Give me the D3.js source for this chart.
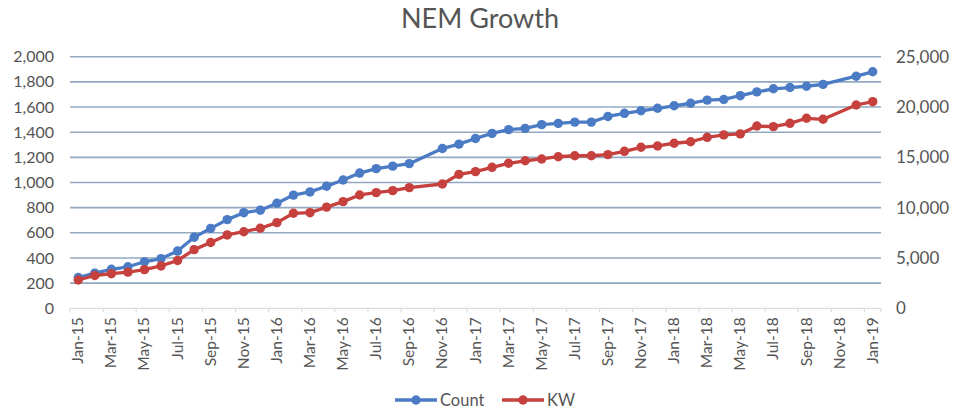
<!DOCTYPE html>
<html>
<head>
<meta charset="utf-8">
<script src="https://cdn.jsdelivr.net/npm/d3@7"></script>
<style>
  html, body { margin: 0; padding: 0; background: #fff; }
  svg { display: block; font-family: Lato, "Open Sans", sans-serif; }
</style>
</head>
<body>
<svg id="chart" width="955" height="412"></svg>
<script>
// Monthly categories, Jan-15 .. Jan-19
const categories = [
  "Jan-15","Feb-15","Mar-15","Apr-15","May-15","Jun-15","Jul-15","Aug-15","Sep-15","Oct-15","Nov-15","Dec-15",
  "Jan-16","Feb-16","Mar-16","Apr-16","May-16","Jun-16","Jul-16","Aug-16","Sep-16","Oct-16","Nov-16","Dec-16",
  "Jan-17","Feb-17","Mar-17","Apr-17","May-17","Jun-17","Jul-17","Aug-17","Sep-17","Oct-17","Nov-17","Dec-17",
  "Jan-18","Feb-18","Mar-18","Apr-18","May-18","Jun-18","Jul-18","Aug-18","Sep-18","Oct-18","Nov-18","Dec-18",
  "Jan-19"
];

// Cumulative number of NEM systems (left axis); null = no report that month
const countValues = [
  245, 280, 310, 330, 370, 395, 455, 565, 635, 705, 760, 780,
  835, 900, 925, 970, 1020, 1075, 1110, 1130, 1150, null, 1270, 1305,
  1350, 1390, 1420, 1430, 1460, 1470, 1480, 1480, 1525, 1550, 1570, 1590,
  1610, 1630, 1655, 1660, 1690, 1720, 1745, 1755, 1765, 1780, null, 1845,
  1880
];

// Cumulative installed capacity in kW (right axis)
const kwValues = [
  2810, 3260, 3440, 3590, 3840, 4210, 4750, 5830, 6540, 7290, 7610, 7950,
  8510, 9440, 9500, 10050, 10600, 11260, 11490, 11690, 11990, null, 12350, 13310,
  13580, 14010, 14410, 14660, 14840, 15060, 15160, 15160, 15270, 15600, 16000, 16130,
  16400, 16550, 16990, 17230, 17330, 18110, 18050, 18380, 18880, 18780, null, 20200,
  20530
];

const leftTicks = [0, 200, 400, 600, 800, 1000, 1200, 1400, 1600, 1800, 2000];
const rightTicks = [0, 5000, 10000, 15000, 20000, 25000];
const xTickLabels = categories.filter((c, i) => i % 2 === 0);

const seriesNames = ["Count", "KW"];
const seriesColors = ["#4a7bc4", "#c6403e"];

const svg = d3.select("#chart");
const plot = { left: 70, right: 881, top: 56.7, bottom: 308.3 };

const x = d3.scaleBand().domain(categories).range([plot.left, plot.right]).padding(0);
const cx = c => x(c) + x.bandwidth() / 2;
const yL = d3.scaleLinear().domain([0, 2000]).range([plot.bottom, plot.top]);
const yR = d3.scaleLinear().domain([0, 25000]).range([plot.bottom, plot.top]);

const textColor = "#555555";

// Title
svg.append("text")
  .attr("x", 480).attr("y", 28)
  .attr("text-anchor", "middle")
  .attr("font-size", 27)
  .attr("fill", textColor)
  .text("NEM Growth");

// Horizontal gridlines
svg.append("g")
  .selectAll("line")
  .data(leftTicks.filter(t => t > 0))
  .join("line")
  .attr("x1", plot.left).attr("x2", plot.right)
  .attr("y1", d => yL(d)).attr("y2", d => yL(d))
  .attr("stroke", "#93a9c2")
  .attr("stroke-width", 1.6);

// Category axis line and tick marks
const xg = svg.append("g");
xg.append("line")
  .attr("x1", plot.left).attr("x2", plot.right)
  .attr("y1", plot.bottom).attr("y2", plot.bottom)
  .attr("stroke", "#dcdcdc").attr("stroke-width", 1.2);
xg.selectAll("line.tick")
  .data(categories.filter((c, i) => i % 2 === 0))
  .join("line")
  .attr("class", "tick")
  .attr("x1", d => x(d)).attr("x2", d => x(d))
  .attr("y1", plot.bottom).attr("y2", plot.bottom + 4)
  .attr("stroke", "#dcdcdc").attr("stroke-width", 1.2);
xg.append("line")
  .attr("x1", plot.right).attr("x2", plot.right)
  .attr("y1", plot.bottom).attr("y2", plot.bottom + 4)
  .attr("stroke", "#dcdcdc").attr("stroke-width", 1.2);

// Rotated month labels
const xAxis = d3.axisBottom(x).tickValues(xTickLabels).tickSize(0).tickPadding(0);
const xLab = svg.append("g")
  .attr("transform", `translate(0,${plot.bottom})`)
  .call(xAxis);
xLab.select(".domain").remove();
xLab.selectAll("text")
  .attr("font-family", "Lato, 'Open Sans', sans-serif")
  .attr("font-size", 15.5)
  .attr("fill", textColor)
  .attr("text-anchor", "end")
  .attr("dy", null)
  .attr("y", 0)
  .attr("transform", "translate(5,9) rotate(-90)");

// Left value axis
const yAxisL = d3.axisLeft(yL).tickValues(leftTicks).tickFormat(d3.format(",")).tickSize(0).tickPadding(0);
const gl = svg.append("g").attr("transform", "translate(54,0)").call(yAxisL);
gl.select(".domain").remove();
gl.selectAll("text")
  .attr("font-family", "Lato, 'Open Sans', sans-serif")
  .attr("font-size", 16)
  .attr("fill", textColor);

// Right value axis
const yAxisR = d3.axisRight(yR).tickValues(rightTicks).tickFormat(d3.format(",")).tickSize(0).tickPadding(0);
const gr = svg.append("g").attr("transform", "translate(896,0)").call(yAxisR);
gr.select(".domain").remove();
gr.selectAll("text")
  .attr("font-family", "Lato, 'Open Sans', sans-serif")
  .attr("font-size", 17)
  .attr("fill", textColor);

// Series
const series = [
  { name: seriesNames[0], color: seriesColors[0], y: yL,
    pts: categories.map((c, i) => ({ c, v: countValues[i] })).filter(d => d.v != null) },
  { name: seriesNames[1], color: seriesColors[1], y: yR,
    pts: categories.map((c, i) => ({ c, v: kwValues[i] })).filter(d => d.v != null) }
];

series.forEach(s => {
  const line = d3.line().x(d => cx(d.c)).y(d => s.y(d.v));
  const g = svg.append("g");
  g.append("path")
    .datum(s.pts)
    .attr("d", line)
    .attr("fill", "none")
    .attr("stroke", s.color)
    .attr("stroke-width", 3.3)
    .attr("stroke-linejoin", "round");
  g.selectAll("circle")
    .data(s.pts)
    .join("circle")
    .attr("cx", d => cx(d.c))
    .attr("cy", d => s.y(d.v))
    .attr("r", 4.7)
    .attr("fill", s.color);
});

// Legend
const legend = svg.append("g").attr("transform", "translate(0,400)");
const legendItems = [
  { name: seriesNames[0], color: seriesColors[0], x0: 395 },
  { name: seriesNames[1], color: seriesColors[1], x0: 502 }
];
legendItems.forEach(it => {
  legend.append("line")
    .attr("x1", it.x0).attr("x2", it.x0 + 42)
    .attr("y1", 0).attr("y2", 0)
    .attr("stroke", it.color).attr("stroke-width", 3.3);
  legend.append("circle")
    .attr("cx", it.x0 + 21).attr("cy", 0).attr("r", 4.7)
    .attr("fill", it.color);
  legend.append("text")
    .attr("x", it.x0 + 45).attr("y", 0)
    .attr("dy", "0.35em")
    .attr("font-size", 16.5)
    .attr("fill", textColor)
    .text(it.name);
});
</script>
</body>
</html>
